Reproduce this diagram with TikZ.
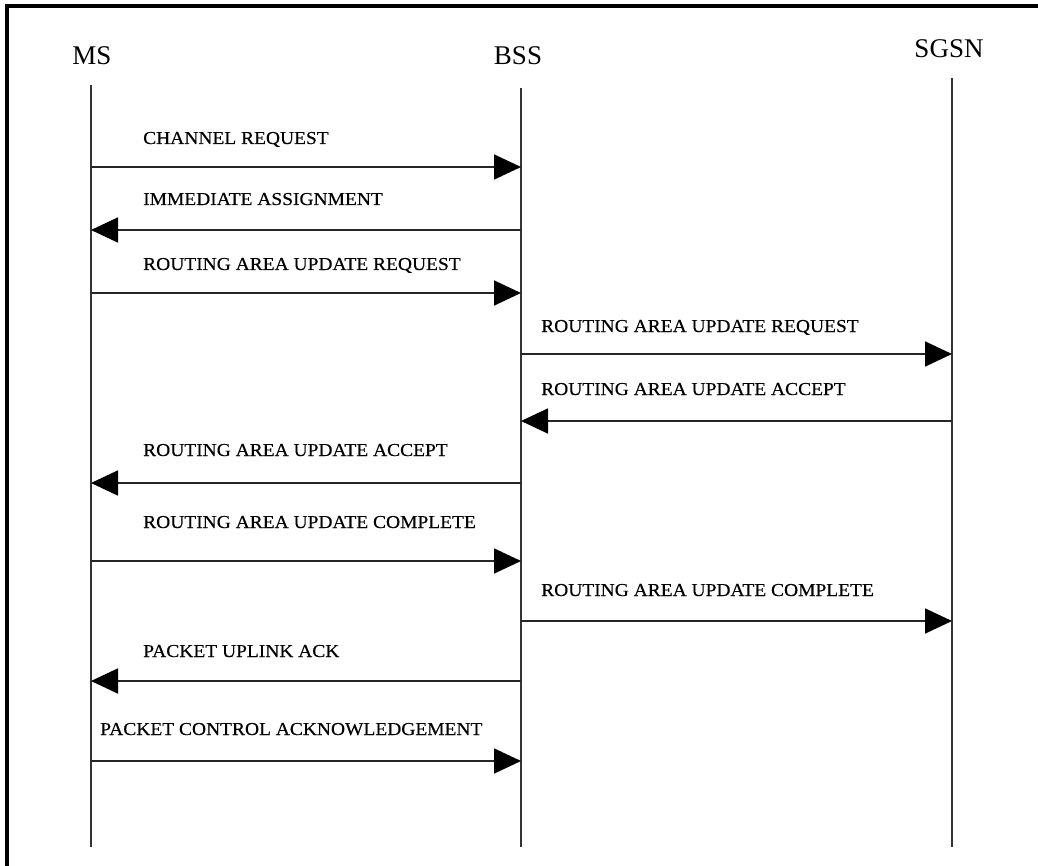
\documentclass[tikz,border=0pt]{standalone}
\usepackage{fontspec}
\setmainfont{Liberation Serif}
\newfontfamily\msgfont[FakeStretch=1.07,FakeBold=0.4]{Liberation Serif}
\usetikzlibrary{arrows.meta}
\begin{document}
\begin{tikzpicture}[x=1pt,y=-1pt,
  lifeline/.style={draw=black!80, line width=2pt},
  msg/.style={draw=black!85, line width=1.8pt, -{Triangle[length=27pt,width=25pt,color=black]}},
  msglabel/.style={anchor=base west, inner sep=0pt, font=\msgfont\fontsize{18.2}{20}\selectfont},
  entity/.style={anchor=base, inner sep=0pt, font=\fontsize{27}{30}\selectfont}]
  \useasboundingbox (0,0) rectangle (1038,866);
  % frame: left and top edges
  \draw[line width=3.5pt, line cap=rect] (7,866) -- (7,6) -- (1038,6);
  % entities
  \node[entity] (msname) at (92,65) {MS};
  \node[entity] (bssname) at (518,65) {BSS};
  \node[entity] (sgsnname) at (949,58) {SGSN};
  % lifelines
  \coordinate (ms) at (91,85);    \coordinate (msend) at (91,847);
  \coordinate (bss) at (521,88);  \coordinate (bssend) at (521,847);
  \coordinate (sgsn) at (952,78); \coordinate (sgsnend) at (952,847);
  \draw[lifeline] (ms) -- (msend);
  \draw[lifeline] (bss) -- (bssend);
  \draw[lifeline] (sgsn) -- (sgsnend);
  % messages
  \draw[msg] (ms |- 0,167) -- (bss |- 0,167);
  \node[msglabel] (l1) at (143,144) {CHANNEL REQUEST};
  \draw[msg] (bss |- 0,230) -- (ms |- 0,230);
  \node[msglabel] (l2) at (143,205) {IMMEDIATE ASSIGNMENT};
  \draw[msg] (ms |- 0,293) -- (bss |- 0,293);
  \node[msglabel] (l3) at (143,270) {ROUTING AREA UPDATE REQUEST};
  \draw[msg] (bss |- 0,354) -- (sgsn |- 0,354);
  \node[msglabel] (l4) at (541,332) {ROUTING AREA UPDATE REQUEST};
  \draw[msg] (sgsn |- 0,421) -- (bss |- 0,421);
  \node[msglabel] (l5) at (541,395) {ROUTING AREA UPDATE ACCEPT};
  \draw[msg] (bss |- 0,483) -- (ms |- 0,483);
  \node[msglabel] (l6) at (143,456) {ROUTING AREA UPDATE ACCEPT};
  \draw[msg] (ms |- 0,561) -- (bss |- 0,561);
  \node[msglabel] (l7) at (143,528) {ROUTING AREA UPDATE COMPLETE};
  \draw[msg] (bss |- 0,621) -- (sgsn |- 0,621);
  \node[msglabel] (l8) at (541,596) {ROUTING AREA UPDATE COMPLETE};
  \draw[msg] (bss |- 0,681) -- (ms |- 0,681);
  \node[msglabel] (l9) at (143,657) {PACKET UPLINK ACK};
  \draw[msg] (ms |- 0,761) -- (bss |- 0,761);
  \node[msglabel] (l10) at (100,735) {PACKET CONTROL ACKNOWLEDGEMENT};
\end{tikzpicture}
\end{document}
